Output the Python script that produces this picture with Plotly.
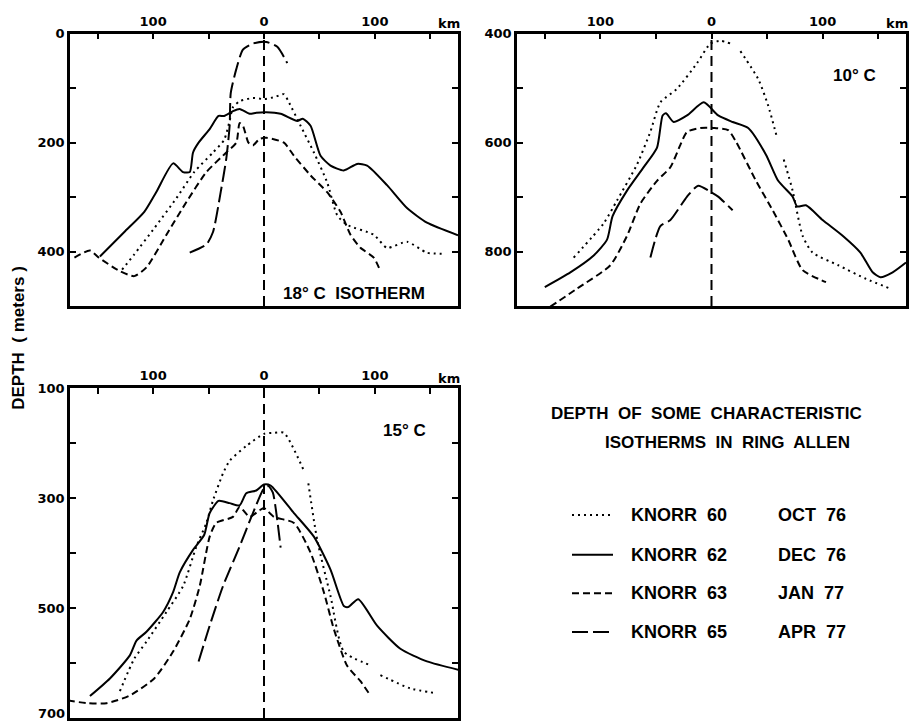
import plotly.graph_objects as go

# ---------------- DATA ----------------
# 18 C isotherm (panel 1), x = distance (km), y = depth (m)
k60_18_x = [-128, -117, -99, -79, -63, -46, -36, -31, -28, -22, -10, 0, 10, 18, 22, 33, 45, 57, 66, 75, 99, 111, 129, 147, 163]
k60_18_y = [433, 405, 357, 302, 254, 218, 195, 160, 135, 124, 118, 120, 116, 111, 124, 169, 218, 273, 333, 351, 369, 393, 382, 402, 404]
k62_18_x = [-148, -126, -108, -97, -82, -73, -67, -64, -59, -49, -41, -36, -28, -22, -13, -7, 2, 15, 30, 35, 42, 51, 60, 72, 84, 93, 111, 129, 147, 175]
k62_18_y = [409, 364, 327, 290, 238, 254, 254, 218, 200, 175, 151, 151, 142, 138, 147, 145, 144, 147, 160, 156, 169, 224, 242, 251, 239, 242, 278, 320, 347, 370]
k63_18_x = [-171, -157, -149, -130, -117, -106, -88, -70, -52, -34, -25, -22, -19, -14, -10, -4, 2, 18, 27, 42, 57, 69, 78, 87, 99, 105]
k63_18_y = [411, 398, 411, 436, 445, 429, 369, 309, 254, 218, 200, 164, 169, 200, 205, 193, 191, 200, 224, 260, 291, 327, 369, 393, 411, 436]
k65_18_x = [-67, -52, -46, -39, -34, -31, -30, -25, -19, -10, 2, 12, 21]
k65_18_y = [402, 387, 364, 290, 229, 169, 109, 65, 29, 18, 15, 24, 54]

# 10 C isotherm (panel 2)
k60_10_x = [-124, -97, -85, -67, -55, -46, -31, -13, -1, 8, 17, None, 26, 42, 51, 59, None, 65, 73, 82, 91, 114, 139, 161]
k60_10_y = [811, 748, 706, 640, 580, 526, 501, 454, 418, 413, 418, None, 432, 483, 532, 591, None, 631, 688, 771, 802, 825, 850, 868]
k62_10_x = [-150, -127, -106, -94, -89, -76, -61, -49, -44, -41, -34, -22, -7, 6, 19, 33, 49, 60, 73, 77, 85, 100, 118, 134, 145, 152, 163, 175]
k62_10_y = [865, 838, 807, 778, 735, 688, 645, 609, 550, 546, 562, 550, 526, 550, 562, 573, 622, 670, 699, 717, 715, 742, 771, 802, 838, 847, 838, 820]
k63_10_x = [-145, -121, -91, -76, -64, -49, -37, -28, -22, -10, 2, 15, 22, 40, 55, 69, 82, 103]
k63_10_y = [901, 868, 825, 771, 712, 670, 645, 604, 580, 573, 573, 577, 598, 670, 724, 778, 834, 856]
k65_10_x = [-55, -46, -37, -22, -12, -1, 6, 19]
k65_10_y = [811, 753, 742, 699, 679, 690, 699, 724]

# 15 C isotherm (panel 3)
k60_15_x = [-130, -117, -106, -88, -73, -61, -52, -46, -37, -31, -16, 0, 9, 18, 36, None, 40, 48, 60, 72, 96, None, 105, 132, 156]
k60_15_y = [651, 592, 561, 507, 460, 388, 345, 304, 255, 232, 205, 183, 181, 181, 250, None, 273, 376, 478, 579, 604, None, 622, 646, 655]
k62_15_x = [-157, -139, -121, -115, -106, -91, -82, -76, -64, -54, -49, -41, -31, -22, -16, -7, 0, 6, 27, 45, 60, 72, 76, 85, 102, 123, 147, 177]
k62_15_y = [660, 628, 586, 559, 543, 507, 471, 435, 394, 367, 327, 305, 309, 313, 291, 286, 275, 277, 327, 370, 430, 496, 498, 484, 532, 574, 597, 613]
k63_15_x = [-177, -159, -142, -121, -99, -82, -67, -58, -49, -43, -28, -22, -13, -4, 0, 9, 27, 42, 54, 63, 75, 87, 96]
k63_15_y = [668, 673, 673, 659, 628, 579, 520, 460, 370, 345, 334, 316, 334, 322, 318, 334, 345, 399, 471, 538, 605, 633, 659]
k65_15_x = [-59, -49, -37, -22, -10, 0, 4, 8, 12, 15]
k65_15_y = [597, 532, 460, 388, 327, 282, 278, 290, 340, 390]

cruises = ["KNORR 60", "KNORR 62", "KNORR 63", "KNORR 65"]
dates = ["OCT 76", "DEC 76", "JAN 77", "APR 77"]
panel_labels = ["18° C\u00a0\u00a0ISOTHERM", "10° C", "15° C"]

x_tickvals = [-150, -100, -50, 0, 50, 100, 150]
x_ticktext = ["", "100", "", "0", "", "100", ""]
y_ranges = [(500, 0), (900, 400), (700, 100)]
y_tickvals = [[0, 100, 200, 300, 400], [400, 500, 600, 700, 800], [100, 200, 300, 400, 500, 600]]
y_ticktext = [["0", "", "200", "", "400"], ["400", "", "600", "", "800"], ["100", "", "300", "", "500", ""]]
bottom_label_p3 = 700

# ---------------- STYLE ----------------
W, H = 909, 723
dashes = ["2px,4px", "solid", "7px,4px", "16px,5px"]
BLACK = "black"
tickfont = dict(family="DejaVu Sans", size=13, color=BLACK, weight="bold")
txtfont = dict(family="Liberation Sans", size=18, color=BLACK, weight="bold")
lblfont = dict(family="Liberation Sans", size=17, color=BLACK, weight="bold")

def px2fx(p):
    return p / W

def py2fy(p):
    return 1 - p / H

# panel boxes in pixels (left, right, top, bottom)
boxes = [(70, 458, 27, 302), (517, 906, 27, 302), (70, 458, 385, 718)]

panels = [
    [(k60_18_x, k60_18_y), (k62_18_x, k62_18_y), (k63_18_x, k63_18_y), (k65_18_x, k65_18_y)],
    [(k60_10_x, k60_10_y), (k62_10_x, k62_10_y), (k63_10_x, k63_10_y), (k65_10_x, k65_10_y)],
    [(k60_15_x, k60_15_y), (k62_15_x, k62_15_y), (k63_15_x, k63_15_y), (k65_15_x, k65_15_y)],
]

fig = go.Figure()
layout_axes = {}
shapes = []
annotations = []
label_pos = [(81, 476), (129, 477), (127, 177)]

for i, series in enumerate(panels):
    n = "" if i == 0 else str(i + 1)
    xa, ya = "x" + n, "y" + n
    for j, (xs, ys) in enumerate(series):
        fig.add_trace(go.Scatter(
            x=xs, y=ys, mode="lines", xaxis=xa, yaxis=ya, showlegend=False,
            name=cruises[j], connectgaps=False,
            line=dict(color=BLACK, width=2, dash=dashes[j], shape="spline", smoothing=0.6),
            hoverinfo="skip"))
    l, r, t, b = boxes[i]
    layout_axes["xaxis" + n] = dict(
        domain=[px2fx(l), px2fx(r)], range=[-175, 175], anchor=ya, side="top",
        showline=True, linecolor=BLACK, linewidth=2.5, mirror=True,
        ticks="inside", ticklen=6, tickwidth=2, tickcolor=BLACK,
        tickvals=x_tickvals, ticktext=x_ticktext, tickfont=tickfont,
        showgrid=False, zeroline=False, fixedrange=True)
    layout_axes["yaxis" + n] = dict(
        domain=[py2fy(b), py2fy(t)], range=list(y_ranges[i]), anchor=xa,
        showline=True, linecolor=BLACK, linewidth=2.5, mirror="ticks",
        ticks="inside", ticklen=6, tickwidth=2, tickcolor=BLACK,
        tickvals=y_tickvals[i], ticktext=y_ticktext[i], tickfont=tickfont,
        showgrid=False, zeroline=False, fixedrange=True)
    # center reference line at 0 km
    shapes.append(dict(type="line", xref=xa, yref=ya + " domain", x0=0, x1=0, y0=0, y1=1,
                       line=dict(color=BLACK, width=2, dash="10px,6px")))
    # km label
    annotations.append(dict(text="km", xref=xa, yref=ya + " domain", x=167, y=1,
                            yanchor="middle", xanchor="center", yshift=10,
                            showarrow=False, font=tickfont))
    # panel label
    annotations.append(dict(text=panel_labels[i], xref=xa, yref=ya, x=label_pos[i][0], y=label_pos[i][1],
                            xanchor="center", yanchor="middle", showarrow=False, font=lblfont))

# bottom-edge depth label of panel 3 (kept just inside the page edge)
annotations.append(dict(text=str(bottom_label_p3), xref="x3 domain", yref="y3", x=0, y=bottom_label_p3,
                        xanchor="right", yanchor="bottom", xshift=-3, yshift=-5, showarrow=False,
                        font=tickfont))

# y title
annotations.append(dict(text="DEPTH\u00a0\u00a0(\u00a0meters\u00a0)", xref="paper", yref="paper",
                        x=px2fx(19), y=py2fy(334), textangle=-90, xanchor="center", yanchor="middle",
                        showarrow=False, font=lblfont))

# title block
annotations.append(dict(text="DEPTH\u00a0 OF\u00a0 SOME\u00a0 CHARACTERISTIC", xref="paper", yref="paper",
                        x=px2fx(706), y=py2fy(410), xanchor="center", yanchor="middle",
                        showarrow=False, font=lblfont))
annotations.append(dict(text="ISOTHERMS\u00a0 IN\u00a0 RING\u00a0 ALLEN", xref="paper", yref="paper",
                        x=px2fx(727), y=py2fy(440), xanchor="center", yanchor="middle",
                        showarrow=False, font=lblfont))

# legend
row_y = [513, 553, 592, 631]
for j in range(4):
    shapes.append(dict(type="line", xref="paper", yref="paper",
                       x0=px2fx(572), x1=px2fx(613), y0=py2fy(row_y[j]), y1=py2fy(row_y[j]),
                       line=dict(color=BLACK, width=2, dash=dashes[j])))
    annotations.append(dict(text=cruises[j].replace(" ", "\u00a0\u00a0"), xref="paper", yref="paper",
                            x=px2fx(629), y=py2fy(row_y[j]), xanchor="left", yanchor="middle",
                            showarrow=False, font=txtfont))
    annotations.append(dict(text=dates[j].replace(" ", "\u00a0\u00a0"), xref="paper", yref="paper",
                            x=px2fx(776), y=py2fy(row_y[j]), xanchor="left", yanchor="middle",
                            showarrow=False, font=txtfont))

fig.update_layout(
    width=W, height=H, margin=dict(l=0, r=0, t=0, b=0),
    paper_bgcolor="white", plot_bgcolor="white",
    showlegend=False, shapes=shapes, annotations=annotations,
    **layout_axes)

fig.write_html("out.html", config={"displayModeBar": False})
